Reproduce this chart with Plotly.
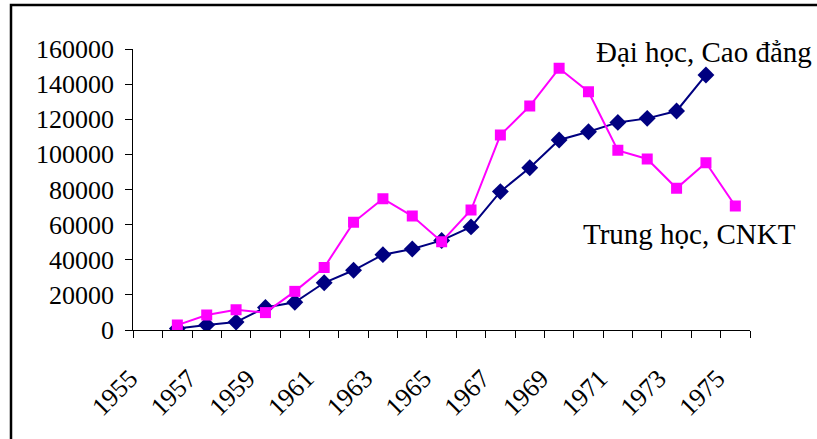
import plotly.graph_objects as go

# Category axis: one slot per year
years = [str(y) for y in range(1955, 1976)]

# Đại học, Cao đẳng (1956-1974)
dh_years = [str(y) for y in range(1956, 1975)]
dh_values = [800, 2900, 4500, 12800, 15800, 26900, 34000, 42900, 46100, 51000,
             58700, 78800, 92400, 108200, 112900, 118200, 120500, 124700, 145200]

# Trung học, CNKT (1956-1975)
th_years = [str(y) for y in range(1956, 1976)]
th_values = [2800, 8500, 11500, 9900, 22000, 35600, 61300, 74800, 64900, 50300,
             68300, 111000, 127500, 149000, 135700, 102300, 97400, 80700, 95300, 70600]

tick_text = [y if i % 2 == 0 else "" for i, y in enumerate(years)]
y_ticks = list(range(0, 160001, 20000))

W, H = 817, 439
FONT = "Liberation Serif, Times New Roman, serif"

fig = go.Figure()
fig.add_trace(go.Scatter(
    x=dh_years, y=dh_values, mode="lines+markers", name="Đại học, Cao đẳng",
    line=dict(color="#000080", width=2),
    marker=dict(symbol="diamond", size=13, color="#000080"),
))
fig.add_trace(go.Scatter(
    x=th_years, y=th_values, mode="lines+markers", name="Trung học, CNKT",
    line=dict(color="#FF00FF", width=2),
    marker=dict(symbol="square", size=11, color="#FF00FF"),
))

x0, x1 = 133.3, 750.0
y_top, y_zero = 49.0, 330.0

fig.update_layout(
    template="none",
    width=W, height=H,
    margin=dict(l=0, r=0, t=0, b=0, pad=0, autoexpand=False),
    paper_bgcolor="white", plot_bgcolor="white",
    showlegend=False,
    font=dict(family=FONT, size=26, color="black"),
    xaxis=dict(
        type="category", categoryorder="array", categoryarray=years,
        range=[-0.5, len(years) - 0.5],
        domain=[x0 / W, x1 / W], automargin=False,
        tickmode="array", tickvals=years, ticktext=tick_text,
        tickson="boundaries", ticks="outside", ticklen=7, tickcolor="black",
        tickwidth=1,
        tickangle=-45, tickfont=dict(family=FONT, size=26),
        ticklabelshift=-18, ticklabelstandoff=22,
        showline=True, linecolor="black", linewidth=1,
        showgrid=False, zeroline=False, fixedrange=True,
    ),
    yaxis=dict(
        range=[0, 160000],
        domain=[(H - y_zero) / H, (H - y_top) / H], automargin=False,
        tickmode="array", tickvals=y_ticks, ticktext=[str(v) for v in y_ticks],
        ticks="outside", ticklen=7, tickcolor="black",
        tickfont=dict(family=FONT, size=26), ticklabelstandoff=6,
        showline=True, linecolor="black", linewidth=1,
        showgrid=False, zeroline=False, fixedrange=True,
    ),
    shapes=[dict(
        type="rect", xref="paper", yref="paper",
        x0=11 / W, x1=1.02, y0=-0.02, y1=1 - 5 / H,
        line=dict(color="black", width=2.5), fillcolor="rgba(0,0,0,0)",
    )],
    annotations=[
        dict(text="Đại học, Cao đẳng", xref="paper", yref="paper",
             x=594 / W, y=1 - 52 / H, xanchor="left", yanchor="middle",
             showarrow=False, font=dict(family=FONT, size=29)),
        dict(text="Trung học, CNKT", xref="paper", yref="paper",
             x=581 / W, y=1 - 234 / H, xanchor="left", yanchor="middle",
             showarrow=False, font=dict(family=FONT, size=29)),
    ],
)

fig.write_html("out.html")
